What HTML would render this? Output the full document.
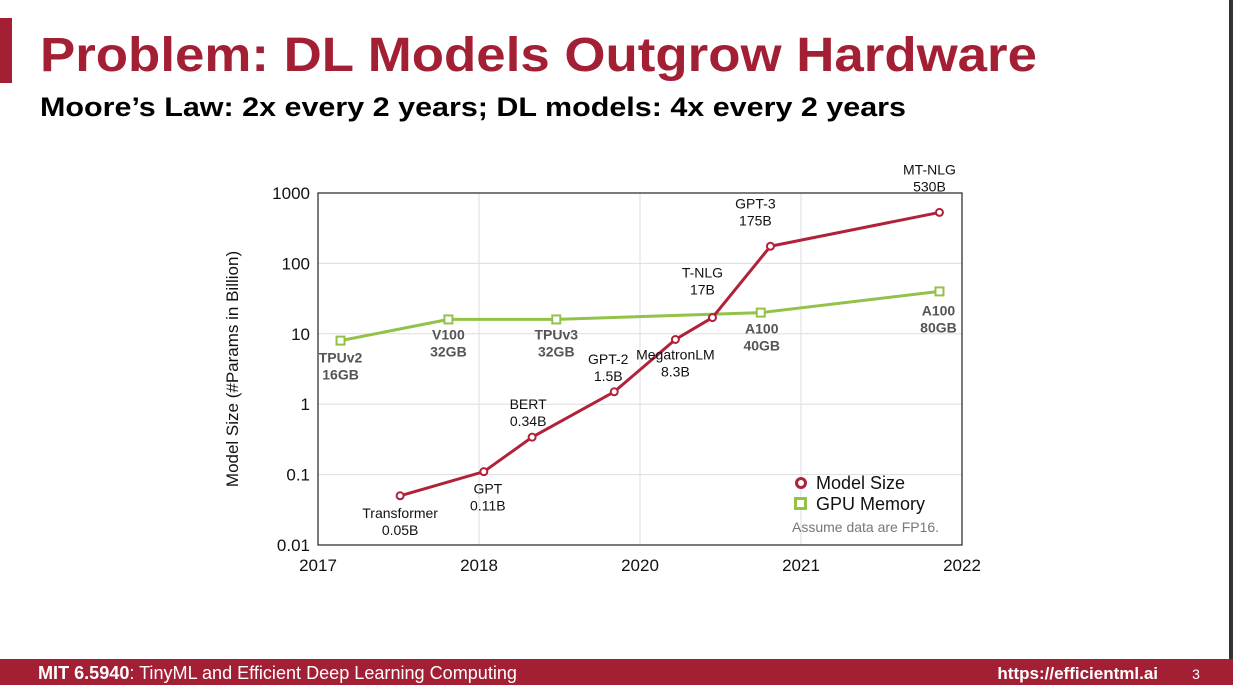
<!DOCTYPE html>
<html><head><meta charset="utf-8"><style>
html,body{margin:0;padding:0;background:#fff;}
svg{display:block;font-family:"Liberation Sans",Arial,sans-serif;}
</style></head><body>
<svg id="slide" width="1233" height="685" viewBox="0 0 1233 685" xmlns="http://www.w3.org/2000/svg">
<rect x="0" y="18" width="12" height="65" fill="#a31f34"/>
<text x="40" y="71" font-size="48" font-weight="bold" fill="#a31f34" textLength="997" lengthAdjust="spacingAndGlyphs">Problem: DL Models Outgrow Hardware</text>
<text x="40" y="116" font-size="27" font-weight="bold" fill="#000" textLength="866" lengthAdjust="spacingAndGlyphs">Moore’s Law: 2x every 2 years; DL models: 4x every 2 years</text>
<rect x="1229" y="0" width="4" height="685" fill="#333"/>
<g id="chart"></g>
<rect x="0" y="659" width="1233" height="26" fill="#a31f34"/>
<text x="38" y="679" font-size="18" fill="#fff" textLength="479" lengthAdjust="spacingAndGlyphs"><tspan font-weight="bold">MIT 6.5940</tspan>: TinyML and Efficient Deep Learning Computing</text>
<text x="1158" y="679" font-size="17" font-weight="bold" fill="#fff" text-anchor="end">https://efficientml.ai</text>
<text x="1196" y="679" font-size="14" fill="#fff" text-anchor="middle">3</text>
</svg>
<script>
const xTickLabels = ["2017","2018","2020","2021","2022"];
const yTickValues = [0.01,0.1,1,10,100,1000];
const yTickLabels = ["0.01","0.1","1","10","100","1000"];
const modelNames = ["Transformer\n0.05B","GPT\n0.11B","BERT\n0.34B","GPT-2\n1.5B","MegatronLM\n8.3B","T-NLG\n17B","GPT-3\n175B","MT-NLG\n530B"];
const modelX = [0.51,1.03,1.33,1.84,2.22,2.45,2.81,3.86];
const modelY = [0.05,0.11,0.34,1.5,8.3,17,175,530];
const gpuNames = ["TPUv2\n16GB","V100\n32GB","TPUv3\n32GB","A100\n40GB","A100\n80GB"];
const gpuX = [0.14,0.81,1.48,2.75,3.86];
const gpuY = [8,16,16,20,40];

const NS="http://www.w3.org/2000/svg";
const g=document.getElementById('chart');
const L=318,R=962,T=193,B=545;
const sx=u=>L+(R-L)*u/(xTickLabels.length-1);
const sy=v=>B-(B-T)*(Math.log10(v)-Math.log10(yTickValues[0]))/(Math.log10(yTickValues[yTickValues.length-1])-Math.log10(yTickValues[0]));
function el(t,a,txt){const e=document.createElementNS(NS,t);for(const k in a)e.setAttribute(k,a[k]);if(txt!==undefined)e.textContent=txt;g.appendChild(e);return e;}

yTickValues.forEach((v,i)=>{
  const ln=el('line',{x1:L,x2:R,y1:sy(v),y2:sy(v),stroke:'#ddd','stroke-width':1});
  
  
  const t=el('text',{x:L-8,y:sy(v)+6,'font-size':17,'text-anchor':'end',fill:'#111'},yTickLabels[i]);
  
  
});
xTickLabels.forEach((s,i)=>{
  const ln=el('line',{x1:sx(i),x2:sx(i),y1:T,y2:B,stroke:'#ddd','stroke-width':1});
  
  
  const t=el('text',{x:sx(i),y:B+26,'font-size':17,'text-anchor':'middle',fill:'#111'},s);
  
  
});
const frame=el('rect',{x:L,y:T,width:R-L,height:B-T,fill:'none',stroke:'#222','stroke-width':1.2});


const yt=el('text',{x:0,y:0,'font-size':17,'text-anchor':'middle',fill:'#111',transform:`translate(238,${(T+B)/2}) rotate(-90)`},'Model Size (#Params in Billion)');



function series(xs,ys,color,name,marker){
  const pl=el('polyline',{points:xs.map((x,i)=>sx(x)+','+sy(ys[i])).join(' '),fill:'none',stroke:color,'stroke-width':3});
  
  
  xs.forEach((x,i)=>{
    let m;
    if(marker==='circle') m=el('circle',{cx:sx(x),cy:sy(ys[i]),r:3.5,fill:'#fff',stroke:color,'stroke-width':2});
    else m=el('rect',{x:sx(x)-4,y:sy(ys[i])-4,width:8,height:8,fill:'#fff',stroke:color,'stroke-width':2});
    
    
  });
}
series(gpuX,gpuY,'#93c249','gpu-memory','square');
series(modelX,modelY,'#b0213a','model-size','circle');

const modelOff=[[0,22],[4,22],[-4,-28],[-6,-28],[0,20],[-10,-40],[-15,-38],[-10,-38]];
modelNames.forEach((n,i)=>{
  const [a,b]=n.split('\n');const x=sx(modelX[i])+modelOff[i][0],y=sy(modelY[i])+modelOff[i][1];
  const t=el('text',{x:x,y:y,'font-size':14,'text-anchor':'middle',fill:'#111'});
  
  
  const s1=document.createElementNS(NS,'tspan');s1.setAttribute('x',x);s1.textContent=a;t.appendChild(s1);
  const s2=document.createElementNS(NS,'tspan');s2.setAttribute('x',x);s2.setAttribute('dy',17);s2.textContent=b;t.appendChild(s2);
});
const gpuOff=[[0,22],[0,20],[0,20],[1,21],[-1,24]];
gpuNames.forEach((n,i)=>{
  const [a,b]=n.split('\n');const x=sx(gpuX[i])+gpuOff[i][0],y=sy(gpuY[i])+gpuOff[i][1];
  const t=el('text',{x:x,y:y,'font-size':14,'font-weight':'bold','text-anchor':'middle',fill:'#555'});
  
  
  const s1=document.createElementNS(NS,'tspan');s1.setAttribute('x',x);s1.textContent=a;t.appendChild(s1);
  const s2=document.createElementNS(NS,'tspan');s2.setAttribute('x',x);s2.setAttribute('dy',17);s2.textContent=b;t.appendChild(s2);
});
// legend
const lc=el('circle',{cx:801,cy:483,r:4.5,fill:'#fff',stroke:'#b0213a','stroke-width':3});


const lt1=el('text',{x:816,y:489,'font-size':18,fill:'#111'},'Model Size');


const lr=el('rect',{x:795.5,y:498.5,width:10,height:10,fill:'#fff',stroke:'#93c249','stroke-width':3});


const lt2=el('text',{x:816,y:510,'font-size':18,fill:'#111'},'GPU Memory');


const note=el('text',{x:792,y:532,'font-size':14,fill:'#777'},'Assume data are FP16.');


</script>
</body></html>
